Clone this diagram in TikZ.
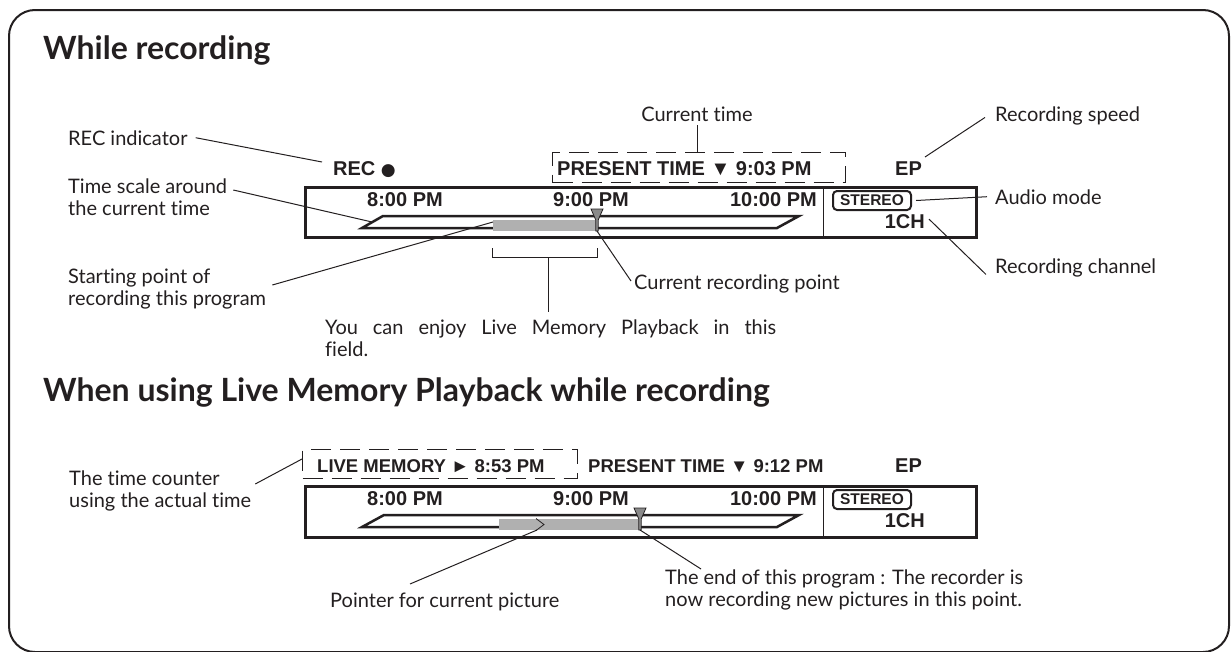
\documentclass[tikz,border=0pt]{standalone}
\usepackage{fontspec}
\setmainfont{Lato}[Ligatures=NoCommon]
\newfontfamily\dispfont{Liberation Sans}
\newfontfamily\symfont{DejaVu Sans}
\definecolor{ink}{HTML}{231F20}
\definecolor{bargray}{HTML}{B0B0B0}
\definecolor{markgray}{HTML}{8A8A8A}
\begin{document}
\begin{tikzpicture}[x=1pt,y=-1pt,
  lbl/.style={font=\fontsize{20}{22}\selectfont, text=ink, inner sep=0pt, anchor=base west},
  ttl/.style={font=\bfseries\fontsize{32}{36}\selectfont, text=ink, inner sep=0pt, anchor=base west},
  disp/.style={font=\dispfont\bfseries\fontsize{20}{22}\selectfont, text=ink, inner sep=0pt, anchor=base west},
  dispB/.style={font=\dispfont\bfseries\fontsize{18.5}{22}\selectfont, text=ink, inner sep=0pt, anchor=base west},
  lead/.style={draw=ink, line width=1pt},
  dbox/.style={draw=ink, line width=1pt, dash pattern=on 20pt off 9pt, inner sep=0pt},
  panel/.style={draw=ink, line width=3pt, inner sep=0pt},
  scalebar/.style={draw=ink, line width=2.5pt, line join=miter},
  stereo/.style={draw=ink, line width=2pt, rounded corners=4pt, inner sep=0pt,
    font=\dispfont\bfseries\fontsize{15.5}{16}\selectfont, text=ink},
  marker/.style={draw=ink, line width=0.8pt, fill=markgray},
]
\useasboundingbox (0,0) rectangle (1232,651);
\draw[draw=ink, line width=2pt, rounded corners=26pt] (9,10) rectangle (1229,652);

% ---------- Section 1 ----------
\node[ttl] (t1) at (43,59) {While recording};

% display panel 1
\node[panel, minimum width=671pt, minimum height=50pt, anchor=north west] (p1) at (304,186) {};
\draw[draw=ink, line width=1pt] (p1.north west) ++(519,0) coordinate (d1t) -- (d1t |- p1.south);
\draw[scalebar] (362,228) -- (383,216) -- (799,216) -- (777,228) -- cycle;
\fill[bargray] (493,219.5) rectangle (597,231);
\draw[marker] (591,209) -- (603,209) -- (598.2,220) -- (598.2,231) -- (595.8,231) -- (595.8,220) -- cycle;
\coordinate (m1) at (597,231);
\coordinate (s1) at (493,222);
\coordinate (sc1) at (372,222);

\node[disp] (rec) at (333,175) {REC {\symfont\fontsize{17}{17}\selectfont ●}};
\node[dbox, minimum width=293pt, minimum height=30pt, anchor=north west] (cbox1) at (552,152) {};
\node[disp] (pt1) at (557,175) {PRESENT TIME ▼ 9:03 PM};
\node[disp] (ep1) at (895,175) {EP};
\node[disp] (h8a) at (367,206) {8:00 PM};
\node[disp] (h9a) at (553,206) {9:00 PM};
\node[disp, anchor=base east] (h10a) at (817,206) {10:00 PM};
\node[stereo, minimum width=78pt, minimum height=19pt, anchor=north west] (st1) at (832,190) {STEREO};
\node[disp, anchor=base east] (ch1) at (925,228) {1CH};

% bracket
\draw[draw=ink, line width=1pt] (492,248) -- (492,257) -- (597,257) -- (597,248);
\coordinate (br1) at (548,257);

% labels section 1
\node[lbl] (recind) at (68,145) {REC indicator};
\node[lbl, anchor=base] (curtime) at (697,121) {Current time};
\node[lbl] (recspeed) at (995,121) {Recording speed};
\node[lbl] (tsa1) at (68,193) {Time scale around};
\node[lbl] (tsa2) at (68,215) {the current time};
\node[lbl] (audio) at (995,204) {Audio mode};
\node[lbl] (recch) at (995,273) {Recording channel};
\node[lbl] (sp1) at (68,283) {Starting point of};
\node[lbl] (sp2) at (68,305) {recording this program};
\node[lbl] (crp) at (634,289) {Current recording point};
\node[lbl] (enj1) at (325,334) {\makebox[451pt][s]{You can enjoy Live Memory Playback in this}};
\node[lbl] (enj2) at (325,356) {field.};

% leaders section 1
\draw[lead] ([xshift=8pt]recind.east) -- (322,162);
\draw[lead] ([yshift=-4pt]curtime.south) -- (curtime.south |- cbox1.north);
\draw[lead] (925,157) -- ([xshift=-10pt,yshift=-2pt]recspeed.west);
\draw[lead] ([shift={(6,-3)}]tsa1.base east) -- (sc1);
\draw[lead] ([xshift=4pt]st1.east) -- ([xshift=-8pt]audio.west);
\draw[lead] ([xshift=4pt,yshift=2pt]ch1.east) -- ([xshift=-9pt,yshift=-7pt]recch.west);
\draw[lead] ([shift={(6,-20)}]sp2.base east) -- (s1);
\draw[lead] (m1) -- ([shift={(-3,-8)}]crp.base west);
\draw[lead] (br1) -- ([yshift=22pt]br1 |- enj1.base);

% ---------- Section 2 ----------
\node[ttl] (t2) at (43,401) {When using Live Memory Playback while recording};

\node[panel, minimum width=671pt, minimum height=51pt, anchor=north west] (p2) at (304,485) {};
\draw[draw=ink, line width=1pt] (p2.north west) ++(519,0) coordinate (d2t) -- (d2t |- p2.south);
\draw[scalebar] (362,527) -- (384,515) -- (799,515) -- (777,527) -- cycle;
\fill[bargray] (499,518.5) rectangle (640,530);
\draw[draw=ink, line width=0.8pt, fill=bargray] (536,518.5) -- (544,524.5) -- (536,530.5);
\coordinate (ptr2) at (537,530);
\draw[marker] (634,508) -- (646,508) -- (641.2,519) -- (641.2,530) -- (638.8,530) -- (638.8,519) -- cycle;
\coordinate (m2) at (640,530);

\node[dbox, minimum width=275pt, minimum height=29pt, anchor=north west] (lbox) at (302,449) {};
\node[dispB] (lm) at (317,472) {LIVE MEMORY ► 8:53 PM};
\node[dispB] (pt2) at (588,472) {PRESENT TIME ▼ 9:12 PM};
\node[disp] (ep2) at (895,472) {EP};
\node[disp] (h8b) at (367,505) {8:00 PM};
\node[disp] (h9b) at (553,505) {9:00 PM};
\node[disp, anchor=base east] (h10b) at (817,505) {10:00 PM};
\node[stereo, minimum width=78pt, minimum height=19pt, anchor=north west] (st2) at (832,489) {STEREO};
\node[disp, anchor=base east] (ch2) at (925,527) {1CH};

\node[lbl] (tc1) at (69,485) {The time counter};
\node[lbl] (tc2) at (69,507) {using the actual time};
\coordinate (tcS) at (tc2.east |- tc1.base);
\node[lbl] (pcp) at (330,607) {Pointer for current picture};
\node[lbl] (end1) at (665,584) {The end of this program : The recorder is};
\node[lbl] (end2) at (665,606) {now recording new pictures in this point.};

\draw[lead] ([shift={(4,-1)}]tcS) -- ([yshift=5pt]lbox.west);
\draw[lead] (ptr2) -- ([shift={(80,-23)}]pcp.base west);
\draw[lead] (m2) -- ([shift={(36,-15)}]end1.base west);
\end{tikzpicture}
\end{document}
